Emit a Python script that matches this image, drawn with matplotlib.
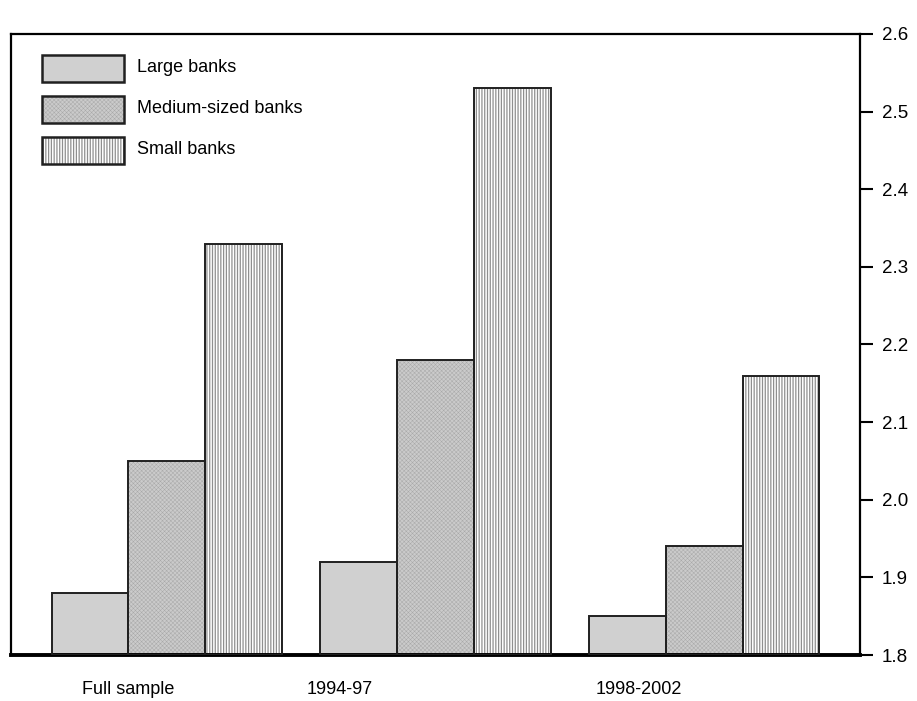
import matplotlib

matplotlib.use("Agg")
import matplotlib.pyplot as plt
import numpy as np

plt.rcParams["font.family"] = ["Liberation Sans Narrow", "Liberation Sans", "DejaVu Sans"]

# data
periods = ["Full sample", "1994-97", "1998-2002"]
large_banks = [1.88, 1.92, 1.85]
medium_banks = [2.05, 2.18, 1.94]
small_banks = [2.33, 2.53, 2.16]
series_names = ["Large banks", "Medium-sized banks", "Small banks"]
y_ticks = [1.8, 1.9, 2.0, 2.1, 2.2, 2.3, 2.4, 2.5, 2.6]
# category labels sit off-centre in the original
label_pos = [-0.5, 2.25, 6.15]

styles = [
    dict(face="#d0d0d0", hatch=None, hcolor=None, hlw=1.0),
    dict(face="#cbcbcb", hatch="xxxxxxxx", hcolor="#a9a9a9", hlw=0.35),
    dict(face="white", hatch="||||||", hcolor="#8f8f8f", hlw=0.9),
]
EDGE = "#202020"

fig = plt.figure(figsize=(9.17, 7.01), dpi=100)
ax = fig.add_axes([11 / 917, 46 / 701, 849 / 917, 621 / 701])


def _filled_rect(xy, w, h, st, **kw):
    # hatch colour comes from rcParams at creation time
    with plt.rc_context({"hatch.linewidth": st["hlw"], "hatch.color": st["hcolor"] or "black"}):
        return plt.Rectangle(xy, w, h, facecolor=st["face"], hatch=st["hatch"],
                             edgecolor=st["hcolor"] or st["face"], linewidth=0, **kw)


x = np.arange(len(periods)) * 3.5
for i, (vals, st) in enumerate(zip([large_banks, medium_banks, small_banks], styles)):
    xs = x + (i - 1)
    with plt.rc_context({"hatch.linewidth": st["hlw"], "hatch.color": st["hcolor"] or "black"}):
        ax.bar(xs, np.array(vals) - 1.8, width=1.0, bottom=1.8, color=st["face"],
               hatch=st["hatch"], edgecolor=st["hcolor"] or st["face"], linewidth=0, zorder=2)
    ax.bar(xs, np.array(vals) - 1.8, width=1.0, bottom=1.8, facecolor="none",
           edgecolor=EDGE, linewidth=1.4, zorder=3)

# legend drawn by hand so the hatch keeps its grey colour
lx, lw, lh, step = 0.0365, 0.0966, 0.0435, 0.066
for i, (name, st) in enumerate(zip(series_names, styles)):
    y0 = 0.9227 - i * step
    ax.add_patch(_filled_rect((lx, y0), lw, lh, st, transform=ax.transAxes, zorder=4))
    ax.add_patch(plt.Rectangle((lx, y0), lw, lh, facecolor="none", edgecolor=EDGE,
                               linewidth=1.8, transform=ax.transAxes, zorder=5))
    ax.text(0.1484, y0 + lh / 2 + 0.002, name, transform=ax.transAxes, fontsize=13,
            va="center", ha="left")

ax.set_xlim(x[0] - 1.5 - 0.53, x[-1] + 1.5 + 0.53)
ax.set_ylim(1.8, 2.6)

ax.yaxis.tick_right()
ax.set_yticks(y_ticks)
ax.set_yticklabels([f"{v:.1f}" for v in y_ticks], fontsize=13.5)
ax.tick_params(axis="y", direction="out", length=9.5, width=1.5, pad=6, colors="black")

ax.set_xticks(label_pos)
ax.set_xticklabels(periods, fontsize=13)
ax.tick_params(axis="x", length=0, pad=19)

for side in ["left", "top", "right"]:
    ax.spines[side].set_linewidth(1.6)
ax.spines["bottom"].set_linewidth(2.8)

fig.savefig("out.png", dpi=100)
